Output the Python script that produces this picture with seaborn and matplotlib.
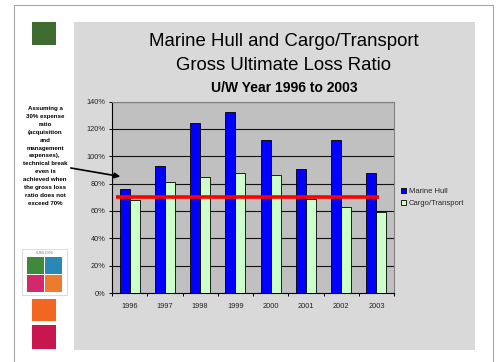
import numpy as np
import pandas as pd
import matplotlib
matplotlib.use("Agg")
import matplotlib.pyplot as plt
from matplotlib.patches import Rectangle, FancyArrowPatch
import seaborn as sns

# ---- data ----
years = ["1996", "1997", "1998", "1999", "2000", "2001", "2002", "2003"]
marine_hull = [76, 93, 124, 132, 112, 91, 112, 88]
cargo_transport = [68, 81, 85, 88, 86, 69, 63, 59]
series_names = ["Marine Hull", "Cargo/Transport"]
break_even = 70
y_ticks = [0, 20, 40, 60, 80, 100, 120, 140]
title_lines = ["Marine Hull and Cargo/Transport", "Gross Ultimate Loss Ratio"]
subtitle = "U/W Year 1996 to 2003"
note = ("Assuming a\n30% expense\nratio\n(acquisition\nand\nmanagement\nexpenses),\n"
        "technical break\neven is\nachieved when\nthe gross loss\nratio does not\nexceed 70%")

df = pd.DataFrame({
    "year": years * 2,
    "ratio": marine_hull + cargo_transport,
    "series": [series_names[0]] * len(years) + [series_names[1]] * len(years),
})

sns.set_theme(style="white")
plt.rcParams["font.family"] = ["Liberation Sans", "DejaVu Sans"]

W, H = 496, 362
fig = plt.figure(figsize=(W / 100, H / 100), dpi=100)
fig.patch.set_facecolor("white")

def fx(px):
    return px / W

def fy(py):
    return 1 - py / H

def rect(x0, y0, x1, y1, **kw):
    fig.patches.append(Rectangle((fx(x0), fy(y1)), fx(x1) - fx(x0), fy(y0) - fy(y1),
                                 transform=fig.transFigure, **kw))

# outer slide border
rect(14, 5, 493, 375, facecolor="none", edgecolor="#a6a6a6", lw=0.8, zorder=-3)
# chart area
rect(74, 22, 475, 350, facecolor="#d9d9d9", edgecolor="none", zorder=-2)
# decorative squares
for (y0, y1, c) in [(22, 45, "#3d6b30"), (299, 321, "#f26522"), (325, 349, "#c8164f")]:
    rect(32, y0, 56, y1, facecolor=c, edgecolor="none", zorder=-1)
# logo
rect(22, 249, 67, 295, facecolor="white", edgecolor="#cccccc", lw=0.5, zorder=-1)
for (x0, y0, c) in [(27, 257, "#3e8a3a"), (44.5, 257, "#2b87b5"),
                    (27, 274.5, "#d3286b"), (44.5, 274.5, "#ec7b2c")]:
    rect(x0, y0, x0 + 17, y0 + 17, facecolor=c, edgecolor="none", zorder=-1)
fig.text(fx(44.5), fy(253), "IUMI 2004", fontsize=2.6, color="#777777",
         ha="center", va="center")

# plot area
ax = fig.add_axes([fx(112), fy(293), fx(394) - fx(112), fy(101.5) - fy(293)])
ax.set_zorder(2)
ax.set_facecolor("#c0c0c0")

sns.barplot(data=df, x="year", y="ratio", hue="series",
            palette=["#0000ff", "#ccffcc"], saturation=1, edgecolor="black",
            linewidth=0.6, width=0.57, gap=0, ax=ax, zorder=3)

ax.set_ylim(0, 140)
ax.set_xlim(-0.5, len(years) - 0.5)
ax.set_yticks(y_ticks)
ax.set_yticklabels([f"{v}%" for v in y_ticks], fontsize=5.3, color="#222222")
ax.set_xticks(range(len(years)))
ax.set_xticklabels(years, fontsize=5.3, color="#222222")
ax.set_xticks(np.arange(-0.5, len(years) + 0.5, 1.0), minor=True)
ax.tick_params(axis="x", which="major", length=0, pad=7)
ax.tick_params(axis="x", which="minor", length=2.2, width=0.7, color="black",
               direction="out", bottom=True)
ax.tick_params(axis="y", which="major", length=2.2, width=0.7, color="black",
               direction="out", pad=2.5, left=True)
ax.set_xlabel("")
ax.set_ylabel("")
for v in y_ticks[1:]:
    ax.axhline(v, color="#111111", lw=0.8, zorder=1)
for s in ["left", "bottom"]:
    ax.spines[s].set_color("black")
    ax.spines[s].set_linewidth(0.8)
for s in ["top", "right"]:
    ax.spines[s].set_color("#808080")
    ax.spines[s].set_linewidth(0.8)

# break-even line
ax.hlines(break_even, -0.39, len(years) - 0.92, color="#ff0000", lw=2.6, zorder=6)

# legend
handles, labels = ax.get_legend_handles_labels()
ax.legend(handles, labels, loc="center left",
          bbox_to_anchor=(fx(401), fy(197.5)), bbox_transform=fig.transFigure,
          frameon=False, fontsize=5.5, handlelength=0.65, handleheight=0.65,
          handletextpad=0.35, labelspacing=0.55, borderpad=0, borderaxespad=0)

# titles
fig.text(fx(284), fy(41), title_lines[0], fontsize=13.4, ha="center", va="center", color="black")
fig.text(fx(284), fy(65), title_lines[1], fontsize=13.4, ha="center", va="center", color="black")
fig.text(fx(284), fy(88), subtitle, fontsize=10, fontweight="bold", ha="center",
         va="center", color="black")

# note and arrow
fig.text(fx(45), fy(156), note, fontsize=4.4, fontweight="bold", ha="center",
         va="center", linespacing=1.72, color="black")
fig.add_artist(FancyArrowPatch(
    (fx(68), fy(167.5)), (fx(123), fy(177)), transform=fig.transFigure,
    arrowstyle="-|>", mutation_scale=8, color="black", lw=1.2, zorder=10))

fig.savefig("out.png", dpi=100, facecolor="white")
